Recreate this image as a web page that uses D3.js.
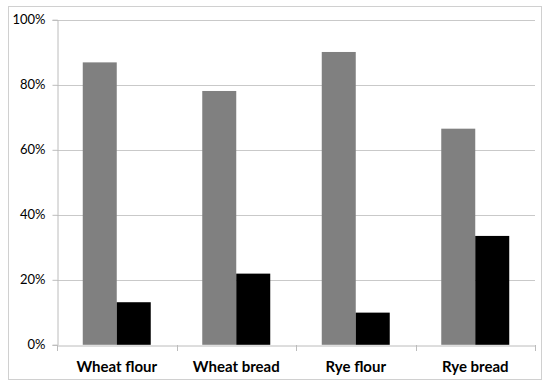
<!DOCTYPE html>
<html><head><meta charset="utf-8">
<script src="https://cdn.jsdelivr.net/npm/d3@7/dist/d3.min.js"></script>
<style>body{margin:0;background:#fff}svg{display:block}</style>
</head><body>
<svg id="c" width="550" height="389"></svg>
<script>
const categories = ["Wheat flour", "Wheat bread", "Rye flour", "Rye bread"];
const seriesNames = ["A", "B"];
const seriesA = [86.9, 78.1, 90.1, 66.5];
const seriesB = [13.1, 21.9, 9.9, 33.5];
const yTicks = [0, 20, 40, 60, 80, 100];
const colors = ["#808080", "#000000"];

const svg = d3.select("#c");
const L = 57, R = 535, T = 19.8, B = 344.8;

svg.append("rect").attr("x", 8.5).attr("y", 6.5).attr("width", 533).attr("height", 373)
  .attr("fill", "#fff").attr("stroke", "#d0d0d0");

const y = d3.scaleLinear().domain([0, 100]).range([B, T]);
const x0 = d3.scaleBand().domain(categories).range([L, R]).paddingInner(0.431).paddingOuter(0.2155);
const x1 = d3.scaleBand().domain(seriesNames).range([0, x0.bandwidth()]);

// gridlines
svg.append("g").selectAll("line").data(yTicks.filter(d => d > 0)).join("line")
  .attr("x1", L).attr("x2", R).attr("y1", d => Math.round(y(d)) + 0.5).attr("y2", d => Math.round(y(d)) + 0.5)
  .attr("stroke", "#c9c9c9").attr("stroke-width", 1);

// y axis
const yAxis = svg.append("g").attr("transform", `translate(${L + 0.5},0)`)
  .call(d3.axisLeft(y).tickValues(yTicks).tickFormat(d => d + "%").tickSize(5).tickPadding(7));
yAxis.select(".domain").attr("stroke", "#bcbcbc");
yAxis.selectAll(".tick line").attr("stroke", "#bcbcbc");
yAxis.selectAll("text").attr("font-family", "Lato, sans-serif").attr("font-size", 13).attr("fill", "#000");

// bars
const data = categories.map((c, i) => ({c, vals: [seriesA[i], seriesB[i]]}));
const g = svg.append("g").selectAll("g").data(data).join("g")
  .attr("transform", d => `translate(${x0(d.c)},0)`);
g.selectAll("rect").data(d => d.vals.map((v, j) => ({s: seriesNames[j], v, j}))).join("rect")
  .attr("x", d => x1(d.s)).attr("width", x1.bandwidth())
  .attr("y", d => y(d.v)).attr("height", d => y(0) - y(d.v))
  .attr("fill", d => colors[d.j]);

// x axis
const xAxis = svg.append("g").attr("transform", `translate(0,${Math.round(B) + 0.5})`)
  .call(d3.axisBottom(x0).tickSize(0).tickPadding(16));
xAxis.select(".domain").attr("stroke", "#bcbcbc");
xAxis.selectAll("text").attr("font-family", "Lato, sans-serif").attr("font-size", 15)
  .attr("font-weight", "bold").attr("fill", "#000");
// category boundary ticks
const bounds = categories.map(c => x0(c) - x0.step() * x0.paddingInner() / 2 - 0 ).concat([R]);
svg.append("g").selectAll("line").data([L, ...categories.slice(1).map(c => x0(c) - x0.step() * x0.paddingInner() / 2), R]).join("line")
  .attr("x1", d => Math.round(d) + 0.5).attr("x2", d => Math.round(d) + 0.5)
  .attr("y1", Math.round(B)).attr("y2", Math.round(B) + 6).attr("stroke", "#bcbcbc");
</script>
</body></html>
